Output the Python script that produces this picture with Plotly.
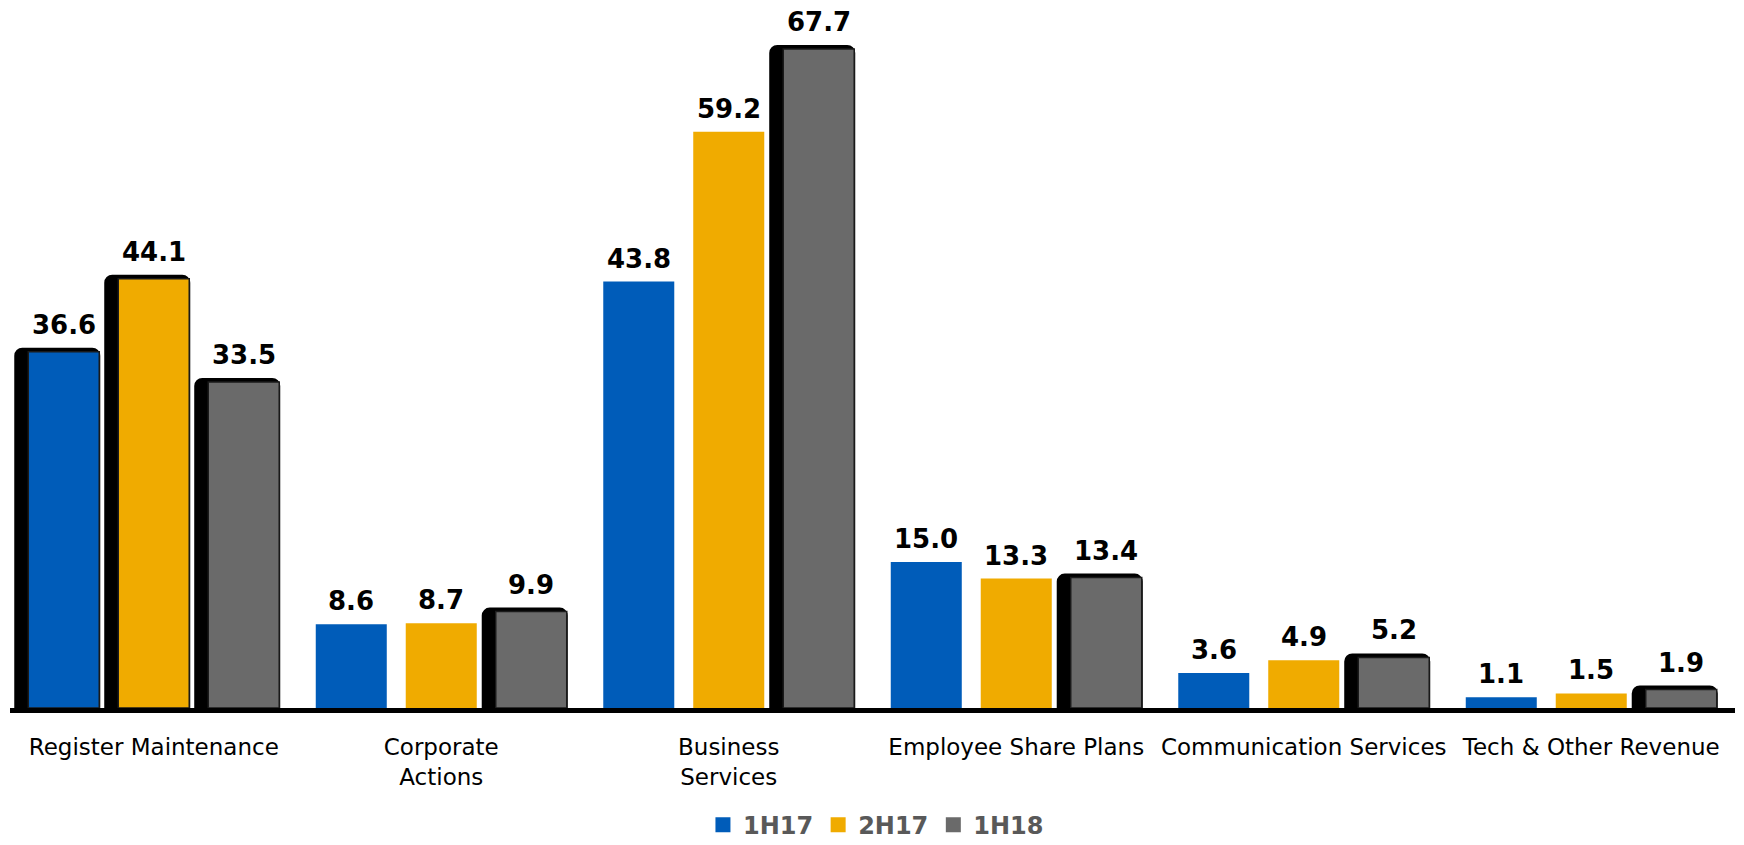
import plotly.graph_objects as go

# Revenue by business line, three half-year periods
categories = ["Register Maintenance", "Corporate<br>Actions", "Business<br>Services",
              "Employee Share Plans", "Communication Services", "Tech & Other Revenue"]
series_names = ["1H17", "2H17", "1H18"]
rev_1h17 = [36.6, 8.6, 43.8, 15.0, 3.6, 1.1]
rev_2h17 = [44.1, 8.7, 59.2, 13.3, 4.9, 1.5]
rev_1h18 = [33.5, 9.9, 67.7, 13.4, 5.2, 1.9]
# bars drawn with the raised black backing
highlight_1h17 = [True, False, False, False, False, False]
highlight_2h17 = [True, False, False, False, False, False]
highlight_1h18 = [True, True, True, True, True, True]

colors = ["#005CB9", "#F0AB00", "#6A6A6A"]
series = [rev_1h17, rev_2h17, rev_1h18]
highlights = [highlight_1h17, highlight_2h17, highlight_1h18]

PX = 1 / 287.5            # one pixel in category units
BAR_W = 0.247
CENTERS = [-0.313, 0.0, 0.313]
FONT = "DejaVu Sans"

x_idx = list(range(len(categories)))
fig = go.Figure()

# black rounded backing behind highlighted bars
for vals, hl, c_off in zip(series, highlights, CENTERS):
    y = [v if h else None for v, h in zip(vals, hl)]
    fig.add_trace(go.Bar(
        x=x_idx, y=y,
        offset=c_off - BAR_W / 2 - 10 * PX,
        width=BAR_W + 7 * PX,
        marker=dict(color="black", line=dict(color="black", width=8), cornerradius=4),
        showlegend=False, hoverinfo="skip",
    ))

# coloured bars
for name, vals, hl, col, c_off in zip(series_names, series, highlights, colors, CENTERS):
    fig.add_trace(go.Bar(
        x=x_idx, y=vals, name=name,
        offset=c_off - BAR_W / 2, width=BAR_W,
        marker=dict(color=col,
                    line=dict(color="#1a1a1a", width=[1.5 if h else 0 for h in hl])),
        showlegend=False,
    ))

# legend entries with larger square swatches
for name, col in zip(series_names, colors):
    fig.add_trace(go.Scatter(
        x=[None], y=[None], mode="markers", name=name,
        marker=dict(symbol="square", size=15, color=col),
    ))

# value labels above each bar
annotations = []
for vals, hl, c_off in zip(series, highlights, CENTERS):
    for i, (v, h) in enumerate(zip(vals, hl)):
        annotations.append(dict(
            x=i + c_off, y=v, xref="x", yref="y",
            text=f"{v:.1f}", showarrow=False,
            yanchor="bottom", xanchor="center",
            yshift=10 if h else 6,
            font=dict(family=FONT, size=26, color="black", weight="bold"),
        ))

fig.update_layout(
    width=1744, height=845,
    margin=dict(l=10, r=9, t=10, b=137, autoexpand=False),
    paper_bgcolor="white", plot_bgcolor="white",
    barmode="overlay",
    annotations=annotations,
    showlegend=True,
    legend=dict(orientation="h", x=0.502, xanchor="center", y=-0.168, yanchor="middle",
                font=dict(family=FONT, size=24, color="#595959", weight="bold"),
                itemwidth=30, traceorder="normal", borderwidth=0,
                bgcolor="rgba(0,0,0,0)"),
    xaxis=dict(range=[-0.5, 5.5], tickvals=x_idx, ticktext=categories,
               showgrid=False, zeroline=False, showline=True, linecolor="black",
               linewidth=5, ticks="", ticklabelstandoff=14, automargin=False,
               tickfont=dict(family=FONT, size=23, color="black")),
    yaxis=dict(range=[0, 71.7], visible=False, showgrid=False, zeroline=False,
               automargin=False),
)

fig.write_html("out.html")
